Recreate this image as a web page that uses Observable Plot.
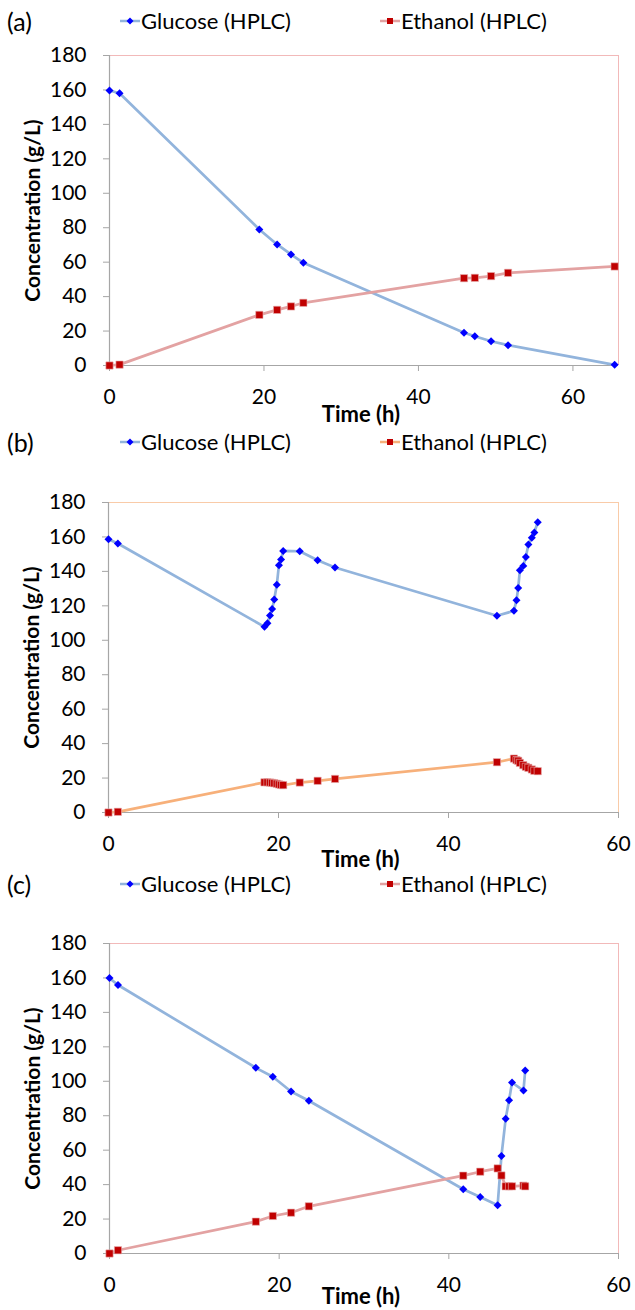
<!DOCTYPE html>
<html>
<head>
<meta charset="utf-8">
<script src="https://cdn.jsdelivr.net/npm/d3@7"></script>
<script src="https://cdn.jsdelivr.net/npm/@observablehq/plot@0.6"></script>
<style>
  html, body { margin: 0; padding: 0; background: #fff; }
  body { width: 635px; height: 1310px; position: relative; overflow: hidden; font-family: Lato, "Open Sans", sans-serif; color: #000; }
  .hdr { position: absolute; left: 0; width: 635px; height: 30px; }
  .plabel { position: absolute; left: 7px; font-size: 25px; line-height: 30px; top: 0; }
  .leg { position: absolute; top: 0; display: flex; align-items: center; font-size: 22px; line-height: 30px; white-space: nowrap; }
  .leg svg { margin-right: 1px; }
  .plot { position: absolute; left: 0; }
  .plot svg { overflow: visible; }
</style>
</head>
<body>
<script>
// ---------- data ----------
const xTicks = [0, 20, 40, 60];
const yTicks = [0, 20, 40, 60, 80, 100, 120, 140, 160, 180];
const seriesNames = ["Glucose (HPLC)", "Ethanol (HPLC)"];
const panelLabels = ["(a)", "(b)", "(c)"];

// Panel (a)
const timeA = [0, 1.3, 19.4, 21.7, 23.5, 25.1, 45.9, 47.3, 49.4, 51.6, 65.4];
const glucoseA = [159.7, 158.1, 79, 70.3, 64.5, 59.6, 19, 17, 14.1, 11.8, 0.4];
const ethanolA = [0, 0.5, 29.4, 32.3, 34.3, 36.4, 50.7, 50.9, 51.9, 53.8, 57.5];

// Panel (b)
const timeB = [0, 1.1, 18.35, 18.7, 19.0, 19.25, 19.5, 19.8, 20.05, 20.3, 20.55, 22.5, 24.6, 26.65,
               45.7, 47.7, 48.0, 48.2, 48.4, 48.8, 49.1, 49.4, 49.8, 50.1, 50.5];
const glucoseB = [158.7, 156.2, 107.8, 109.9, 114.4, 118.2, 123.7, 132.2, 143.6, 146.9, 151.9, 151.7, 146.5, 142.3,
                  114.2, 117.1, 123.3, 130.4, 140.7, 143.2, 148.3, 155.6, 159.5, 162.6, 168.6];
const ethanolB = [0, 0.4, 17.5, 17.5, 17.4, 17.2, 17.0, 16.7, 16.3, 16.0, 15.9, 17.4, 18.4, 19.5,
                  29.2, 31.3, 30.4, 30.0, 28.8, 27.5, 26.5, 25.9, 25.0, 24.2, 24.0];

// Panel (c)
const timeC = [0, 1.0, 17.25, 19.25, 21.4, 23.5, 41.7, 43.7, 45.75, 46.2, 46.7, 47.1, 47.45, 48.8, 49.0];
const glucoseC = [159.9, 155.9, 107.8, 102.6, 94.1, 88.7, 37.3, 32.8, 28, 56.6, 78.2, 89, 99.3, 94.6, 106.2];
const ethanolC = [0, 1.9, 18.5, 21.8, 23.7, 27.4, 45.2, 47.5, 49.4, 45.3, 39, 39, 39, 39.4, 39];

// ---------- styles ----------
const glucoseLine = "#92b4dc";
const glucoseMarker = "#0000ff";
const ethanolMarker = "#c00000";
const axisGray = "#a6a6a6";

const panels = [
  {label: panelLabels[0], t: timeA, g: glucoseA, e: ethanolA, xmax: 65.9, ml: 109, mr: 17, top: 40,
   ethLine: "#e3a2a2", frame: "#f2b9b9", hdrTop: 6, timeDy: 49},
  {label: panelLabels[1], t: timeB, g: glucoseB, e: ethanolB, xmax: 60, ml: 108, mr: 17, top: 487,
   ethLine: "#f7b07a", frame: "#f9cba8", hdrTop: 427, timeDy: 47},
  {label: panelLabels[2], t: timeC, g: glucoseC, e: ethanolC, xmax: 60, ml: 109, mr: 17, top: 928,
   ethLine: "#e3a2a2", frame: "#f2b9b9", hdrTop: 869, timeDy: 43}
];

function legendSwatch(lineColor, markerColor, shape) {
  const ns = "http://www.w3.org/2000/svg";
  const s = document.createElementNS(ns, "svg");
  s.setAttribute("width", 20); s.setAttribute("height", 12);
  const l = document.createElementNS(ns, "line");
  l.setAttribute("x1", 0); l.setAttribute("x2", 20); l.setAttribute("y1", 6); l.setAttribute("y2", 6);
  l.setAttribute("stroke", lineColor); l.setAttribute("stroke-width", 2.5);
  s.appendChild(l);
  if (shape === "diamond") {
    const p = document.createElementNS(ns, "path");
    p.setAttribute("d", "M10,2.5L13.5,6L10,9.5L6.5,6Z");
    p.setAttribute("fill", markerColor);
    s.appendChild(p);
  } else {
    const r = document.createElementNS(ns, "rect");
    r.setAttribute("x", 7); r.setAttribute("y", 3); r.setAttribute("width", 6); r.setAttribute("height", 6);
    r.setAttribute("fill", markerColor);
    s.appendChild(r);
  }
  return s;
}

for (const p of panels) {
  // header
  const hdr = document.createElement("div");
  hdr.className = "hdr"; hdr.style.top = p.hdrTop + "px";
  const lab = document.createElement("div"); lab.className = "plabel"; lab.textContent = p.label;
  hdr.appendChild(lab);
  const lg1 = document.createElement("div"); lg1.className = "leg"; lg1.style.left = "120px";
  lg1.appendChild(legendSwatch(glucoseLine, glucoseMarker, "diamond"));
  lg1.appendChild(document.createTextNode(seriesNames[0]));
  const lg2 = document.createElement("div"); lg2.className = "leg"; lg2.style.left = "380px";
  lg2.appendChild(legendSwatch(p.ethLine, ethanolMarker, "square"));
  lg2.appendChild(document.createTextNode(seriesNames[1]));
  hdr.appendChild(lg1); hdr.appendChild(lg2);
  document.body.appendChild(hdr);

  const gData = p.t.map((t, i) => ({t, v: p.g[i]}));
  const eData = p.t.map((t, i) => ({t, v: p.e[i]}));

  const chart = Plot.plot({
    width: 635,
    height: 385,
    marginLeft: p.ml,
    marginRight: p.mr,
    marginTop: 15,
    marginBottom: 60,
    style: {fontFamily: "Lato, 'Open Sans', sans-serif", fontSize: "21px", color: "#000", background: "transparent"},
    x: {domain: [0, p.xmax], label: null},
    y: {domain: [0, 180], label: null},
    marks: [
      Plot.ruleY([180], {stroke: p.frame, strokeWidth: 1}),
      Plot.ruleX([p.xmax], {stroke: p.frame, strokeWidth: 1}),
      Plot.axisX({ticks: xTicks, tickSize: 6, tickPadding: 18, stroke: axisGray, fill: "#000", fontSize: 21, label: null}),
      Plot.axisY({ticks: yTicks, tickSize: 6, tickPadding: 17, stroke: axisGray, fill: "#000", fontSize: 21, label: null}),
      Plot.ruleX([0], {stroke: axisGray, strokeWidth: 1.2}),
      Plot.ruleY([0], {stroke: axisGray, strokeWidth: 1.2}),
      Plot.line(gData, {x: "t", y: "v", stroke: glucoseLine, strokeWidth: 2.7}),
      Plot.line(eData, {x: "t", y: "v", stroke: p.ethLine, strokeWidth: 2.7}),
      Plot.dot(eData, {x: "t", y: "v", symbol: "square", fill: ethanolMarker, stroke: "#e8b0b0", strokeWidth: 0.6, r: 4.1}),
      Plot.dot(gData, {x: "t", y: "v", symbol: "diamond2", fill: glucoseMarker, stroke: "none", r: 3.6}),
      Plot.text(["Concentration (g/L)"], {frameAnchor: "left", textAnchor: "middle", lineAnchor: "middle", dx: -76, rotate: -90, fontWeight: "bold", fontSize: 21, fill: "#000"}),
      Plot.text(["Time (h)"], {frameAnchor: "bottom", textAnchor: "middle", lineAnchor: "middle", dy: p.timeDy, dx: -3, fontWeight: "bold", fontSize: 22, fill: "#000"})
    ]
  });
  const wrap = document.createElement("div");
  wrap.className = "plot"; wrap.style.top = p.top + "px";
  wrap.appendChild(chart);
  document.body.appendChild(wrap);
}
</script>
</body>
</html>
